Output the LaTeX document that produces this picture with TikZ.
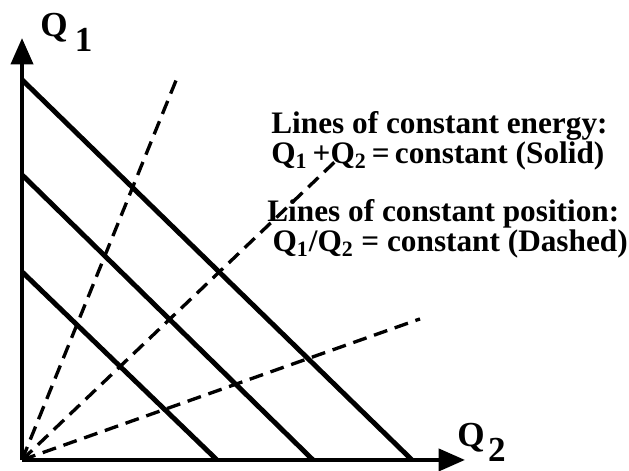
\documentclass[tikz,border=0pt]{standalone}
\usepackage{fontspec}
\setmainfont{Liberation Serif}
\usetikzlibrary{arrows.meta}
\begin{document}
\begin{tikzpicture}[x=1.94cm,y=1.94cm,
  axis/.style={line width=2.3pt,-{Triangle[length=15pt,width=12.5pt]}},
  energy/.style={line width=2.8pt},
  position/.style={line width=1.9pt,dash pattern=on 8pt off 4.5pt},
  lbl/.style={inner sep=0pt,anchor=base west,align=left,
    execute at begin node={\lineskiplimit=-20pt},
    font=\fontsize{17.8}{17.4}\selectfont\bfseries},
  axlbl/.style={inner sep=0pt,anchor=base west,font=\fontsize{20}{22}\selectfont\bfseries}]
\useasboundingbox (-0.227,-0.113) rectangle (6.258,4.742);
\coordinate (O) at (0,0);
% dashed lines Q1/Q2 = const
\draw[position] (O)--(1.598,3.938);
\draw[position] (O)--(3.278,3.124);
\draw[position] (O)--(4.103,1.454);
% solid lines Q1+Q2 = const
\draw[energy] (0,3.92)--(4.02,0);
\draw[energy] (0,2.94)--(3,0);
\draw[energy] (0,1.94)--(2.01,0);
% axes
\draw[axis] (O)--(0,4.35);
\draw[axis] (O)--(4.567,0);
\node[axlbl] (qone) at (0.186,4.361) {Q\hspace{4pt}\raisebox{-8pt}{1}};
\node[axlbl] (qtwo) at (4.485,0.134) {Q\hspace{2pt}\raisebox{-8pt}{2}};
% legend (anchor on the last line)
\node[lbl] (energy) at (2.567,3.052) {Lines of constant energy:\\
  Q\textsubscript{1}\,+Q\textsubscript{2}\,=\,constant (Solid)};
\node[lbl] (position) at (2.526,2.144) {Lines of constant position:\\
  \hspace{3pt}Q\textsubscript{1}/Q\textsubscript{2} = constant (Dashed)};
\end{tikzpicture}
\end{document}
